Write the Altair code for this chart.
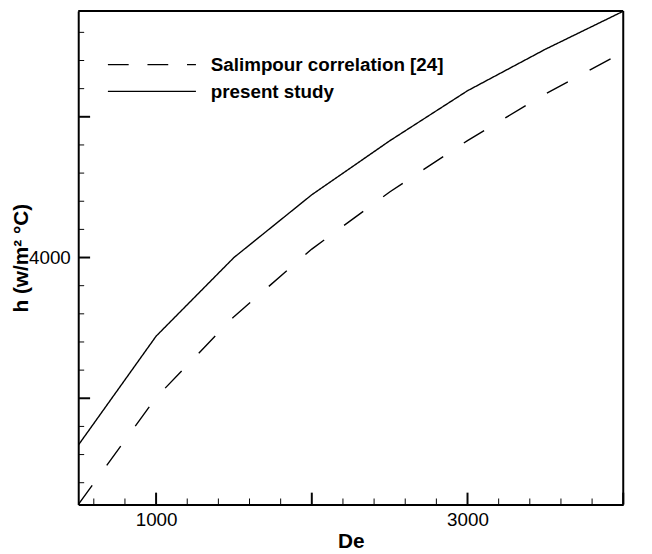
import altair as alt
import pandas as pd

# ---- data ----
De = [500, 1000, 1500, 2000, 2500, 3000, 3500, 4000]
h_present = [2666, 3441, 4000, 4446, 4829, 5185, 5480, 5750]
h_salimpour = [2245, 3005, 3580, 4060, 4466, 4831, 5163, 5459]
series_names = ["Salimpour correlation [24]", "present study"]

x_major = [1000, 2000, 3000, 4000]
x_minor = [600, 800, 1200, 1400, 1600, 1800, 2200, 2400, 2600, 2800,
           3200, 3400, 3600, 3800]
y_major = [3000, 4000, 5000]
y_minor = [2400, 2600, 2800, 3200, 3400, 3600, 3800, 4200, 4400, 4600,
           4800, 5200, 5400, 5600]

X_DOMAIN = [500, 4000]
Y_DOMAIN = [2245, 5752]
W, H = 551, 499
FONT = "Liberation Sans"
INK = "#050505"
IS_MAJOR = "datum.value % 1000 === 0"

rows = []
for d, v in zip(De, h_salimpour):
    rows.append({"De": d, "h": v, "series": series_names[0]})
for d, v in zip(De, h_present):
    rows.append({"De": d, "h": v, "series": series_names[1]})
df = pd.DataFrame(rows)

xscale = alt.Scale(domain=X_DOMAIN, nice=False, zero=False)
yscale = alt.Scale(domain=Y_DOMAIN, nice=False, zero=False)


def make_axes(with_encode):
    xa = dict(values=sorted(x_major + x_minor), format="d", title="De",
              grid=False, domain=True, domainColor="black", domainWidth=2,
              ticks=True, tickSize=0, tickColor="black",
              labelExpr=IS_MAJOR + " ? datum.label : ''", labelOverlap=False,
              labelFont=FONT, labelFontSize=19, labelColor="black",
              labelPadding=6, labelFlush=False,
              titleFont=FONT, titleFontSize=21, titleFontWeight="bold",
              titleColor="black", titleBaseline="alphabetic", titleY=43)
    ya = dict(values=sorted(y_major + y_minor), format="d", title="h (w/m² °C)",
              grid=False, domain=True, domainColor="black", domainWidth=2,
              ticks=True, tickSize=0, tickColor="black",
              labelExpr=IS_MAJOR + " ? datum.label : ''", labelOverlap=False,
              labelFont=FONT, labelFontSize=19, labelColor="black",
              labelPadding=8, labelFlush=False,
              titleFont=FONT, titleFontSize=21, titleFontWeight="bold",
              titleColor="black", titleBaseline="alphabetic", titleX=-51,
              titleY=H / 2, titleAngle=-90, titleAlign="center")
    if with_encode:
        width_rule = {"condition": {"test": IS_MAJOR, "value": 2}, "value": 1}
        xa["encode"] = {"ticks": {
            "y2": {"condition": {"test": IS_MAJOR, "value": -12}, "value": -6},
            "strokeWidth": width_rule}}
        ya["encode"] = {"ticks": {
            "x2": {"condition": {"test": IS_MAJOR, "value": 12}, "value": 6},
            "strokeWidth": width_rule}}
    return alt.Axis(**xa), alt.Axis(**ya)


def xticks(vals, length, width):
    return alt.Chart(pd.DataFrame({"xv": vals})).mark_tick(
        color=INK, orient="vertical", size=length, thickness=width,
        opacity=1).encode(
        x=alt.X("xv:Q", scale=xscale), y=alt.value(H - length / 2))


def yticks(vals, length, width):
    return alt.Chart(pd.DataFrame({"yv": vals})).mark_tick(
        color=INK, orient="horizontal", size=length, thickness=width,
        opacity=1).encode(
        y=alt.Y("yv:Q", scale=yscale), x=alt.value(length / 2))


def build(with_encode):
    x_axis, y_axis = make_axes(with_encode)
    lines = alt.Chart(df).mark_line(color="black", strokeWidth=1.4,
                                    clip=True).encode(
        x=alt.X("De:Q", scale=xscale, axis=x_axis),
        y=alt.Y("h:Q", scale=yscale, axis=y_axis),
        strokeDash=alt.StrokeDash("series:N",
                                  scale=alt.Scale(domain=series_names,
                                                  range=[[24, 25], [1, 0]]),
                                  legend=None),
        detail="series:N",
    )

    frame_df = pd.DataFrame({"edge": ["top", "right"]})
    frame_top = alt.Chart(frame_df.iloc[[0]]).mark_rule(
        color="black", strokeWidth=2).encode(
        x=alt.value(0), x2=alt.value(W), y=alt.value(0))
    frame_right = alt.Chart(frame_df.iloc[[1]]).mark_rule(
        color="black", strokeWidth=2).encode(
        x=alt.value(W), y=alt.value(0), y2=alt.value(H))

    leg_df = pd.DataFrame({"label": series_names})
    leg_dash = alt.Chart(leg_df.iloc[[0]]).mark_rule(
        color="black", strokeWidth=1.4, strokeDash=[21, 19]).encode(
        x=alt.value(30), x2=alt.value(119), y=alt.value(54.3))
    leg_solid = alt.Chart(leg_df.iloc[[1]]).mark_rule(
        color="black", strokeWidth=1.4).encode(
        x=alt.value(30), x2=alt.value(119), y=alt.value(81.3))
    leg_t1 = alt.Chart(leg_df.iloc[[0]]).mark_text(
        font=FONT, fontSize=19, fontWeight="bold", color="black",
        align="left", baseline="alphabetic").encode(
        x=alt.value(134), y=alt.value(61), text="label:N")
    leg_t2 = alt.Chart(leg_df.iloc[[1]]).mark_text(
        font=FONT, fontSize=19, fontWeight="bold", color="black",
        align="left", baseline="alphabetic").encode(
        x=alt.value(134), y=alt.value(88), text="label:N")

    return alt.layer(
        lines,
        xticks(x_major, 12, 2), xticks(x_minor, 6, 1),
        yticks(y_major, 12, 2), yticks(y_minor, 6, 1),
        frame_top, frame_right,
        leg_dash, leg_solid, leg_t1, leg_t2,
    ).properties(
        width=W, height=H,
        autosize=alt.AutoSizeParams(type="none"),
        padding={"left": 71, "top": 0, "right": 21, "bottom": 44},
    )


try:
    chart = build(True)
    chart.to_dict()
except Exception:
    chart = build(False)

chart.save("out.html", embed_options={"renderer": "svg", "actions": False})
